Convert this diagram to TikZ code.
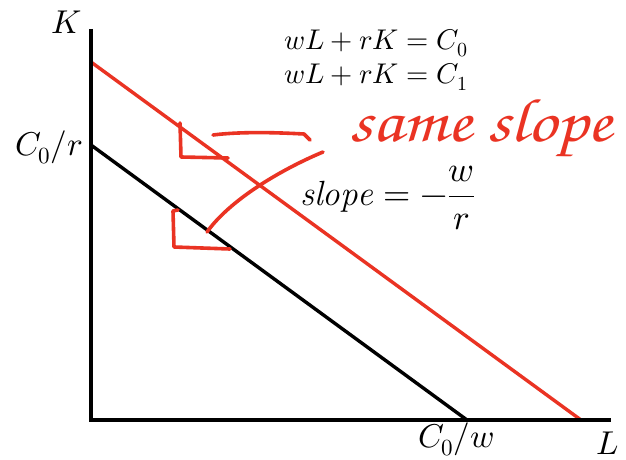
\documentclass[tikz,border=0pt]{standalone}
\usepackage[T1,TU]{fontenc}
\usepackage{unicode-math}
\setmathfont{Latin Modern Math}
\definecolor{pen}{RGB}{234,51,35}
\newcommand{\handfont}{\fontencoding{T1}\fontfamily{pzc}\fontseries{mb}\fontshape{it}\selectfont}
\begin{document}
\begin{tikzpicture}[x=1pt,y=-1pt,
  axis/.style={line width=3.6pt,black},
  budget/.style={line width=3.4pt},
  hand/.style={pen,line width=3.6pt,line cap=round,line join=round},
  lbl/.style={inner sep=0pt,font=\fontsize{33}{38}\selectfont},
  eqn/.style={inner sep=0pt,font=\fontsize{28.5}{33}\selectfont}]
\useasboundingbox[fill=white] (0,0) rectangle (626,460);
\coordinate (O) at (91,420);
\coordinate (Ytop) at (91,29);
\coordinate (Xend) at (611,420);
\coordinate (B0) at (91,145);
\coordinate (B1) at (467,420);
\coordinate (R0) at (91,62);
\coordinate (R1) at (581,420);
% budget lines
\draw[budget,black] (B0) -- (B1);
\draw[budget,pen] (R0) -- (R1);
% axes
\draw[axis] (Ytop) -- (O) -- (Xend);
% labels
\node[lbl] (K) at (67,22) {$K$};
\node[lbl,anchor=east] (c0r) at (83,147) {$C_0/r$};
\node[lbl] (c0w) at (456,439) {$C_0/w$};
\node[lbl] (L) at (608,443) {$L$};
\node[eqn] (eq0) at (376,43) {$wL+rK=C_0$};
\node[eqn] (eq1) at (376,77) {$wL+rK=C_1$};
\node[inner sep=0pt,anchor=west,font=\fontsize{35}{40}\selectfont] (slope) at (300,198) {$\displaystyle \mathit{slope}=-\frac{w}{r}$};
% hand-drawn marks
\draw[hand] (180,123) -- (181,157) -- (228,158);
\draw[hand] (178,210) -- (173,211) -- (174,247) -- (230,249);
\draw[hand] (213,135) .. controls (245,131) and (285,133) .. (304,134) -- (310,140);
\draw[hand] (323,152) .. controls (280,170) and (230,200) .. (207,232);
\node[pen,inner sep=0pt] (same) at (481,129) {\scalebox{1}[0.86]{\resizebox{262pt}{!}{\handfont same slope}}};
\end{tikzpicture}
\end{document}
